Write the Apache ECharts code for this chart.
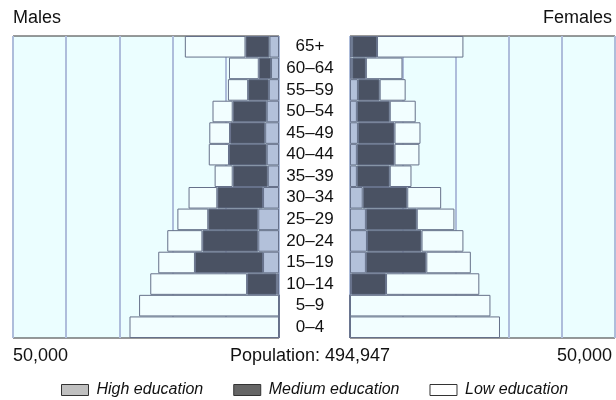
<!DOCTYPE html>
<html><head><meta charset="utf-8">
<script src="https://cdn.jsdelivr.net/npm/echarts@6/dist/echarts.min.js"></script>
<style>html,body{margin:0;padding:0;background:#fff}#c{width:616px;height:400px}</style>
</head><body><div id="c"></div>
<script>
// Age groups, bottom to top
const ages = ['0–4','5–9','10–14','15–19','20–24','25–29','30–34','35–39','40–44','45–49','50–54','55–59','60–64','65+'];
// Males (bottom to top)
const maleHigh   = [0,    0,     400,  3000, 3900, 3900, 3000, 2100, 2300, 2600, 2300, 1900, 1500, 1800];
const maleMedium = [0,    0,     5600, 12800,10500,9400, 8600, 6600, 7100, 6600, 6400, 3900, 2300, 4500];
const maleLow    = [28100,26300, 18200,6900, 6600, 5800, 5400, 3400, 3800, 3900, 3800, 3800, 5600, 11400];
// Females (bottom to top)
const femHigh    = [0,    0,     200,  3000, 3200, 3000, 2400, 1300, 1300, 1500, 1300, 1500, 400,  400];
const femMedium  = [0,    0,     6600, 11400,10300,9600, 8400, 6200, 7100, 6900, 6200, 4100, 2600, 4700];
const femLow     = [28300,26500, 17600,8400, 7900, 7100, 6400, 4100, 4700, 4900, 4900, 4900, 6900, 16300];
const axisMax = 50000;
const totalLabel = 'Population: 494,947';

const FONT = '"Liberation Sans", Arial, sans-serif';
const cHigh = '#b3c1da', cMed = '#4a5263', cLow = '#f2feff', cBorder = '#66718a';

function bar(name, data, color, idx, stack) {
  return {
    type: 'bar', name: name, data: data, stack: stack,
    xAxisIndex: idx, yAxisIndex: idx, barCategoryGap: '0%',
    itemStyle: { color: color, borderColor: cBorder, borderWidth: 1 },
    emphasis: { disabled: true }, animation: false
  };
}

const chart = echarts.init(document.getElementById('c'), null, { renderer: 'canvas' });
const xCommon = {
  type: 'value', min: 0, max: axisMax, interval: 10000,
  axisLabel: { show: false }, axisLine: { show: false }, axisTick: { show: false },
  splitLine: { show: true, lineStyle: { color: '#aebddb', width: 2 } }
};
chart.setOption({
  animation: false,
  grid: [
    { left: 13, right: 337, top: 36, bottom: 62, show: true, backgroundColor: '#ebfeff', borderColor: '#333', borderWidth: 1 },
    { left: 350, right: 1, top: 36, bottom: 62, show: true, backgroundColor: '#ebfeff', borderColor: '#333', borderWidth: 1 }
  ],
  xAxis: [
    Object.assign({ gridIndex: 0, inverse: true }, xCommon),
    Object.assign({ gridIndex: 1 }, xCommon)
  ],
  yAxis: [
    { type: 'category', gridIndex: 0, data: ages, position: 'right',
      axisLabel: { show: false }, axisLine: { show: false }, axisTick: { show: false } },
    { type: 'category', gridIndex: 1, data: ages, position: 'left',
      axisLine: { show: false }, axisTick: { show: false },
      axisLabel: { show: true, interval: 0, align: 'center', margin: 40, fontFamily: FONT, fontSize: 17, color: '#111' } }
  ],
  legend: {
    left: 56, top: 377, itemGap: 30, itemWidth: 27, itemHeight: 11, icon: 'rect',
    selectedMode: false,
    textStyle: { fontFamily: FONT, fontSize: 16, fontStyle: 'italic', color: '#111', padding: [0,0,0,3] },
    data: [
      { name: 'High education', itemStyle: { color: '#c0c0c0', borderColor: '#333', borderWidth: 1 } },
      { name: 'Medium education', itemStyle: { color: '#666666', borderColor: '#333', borderWidth: 1 } },
      { name: 'Low education', itemStyle: { color: '#ffffff', borderColor: '#333', borderWidth: 1 } }
    ]
  },
  graphic: [
    { type: 'text', left: 13, top: 9, style: { text: 'Males', font: '18px ' + FONT, fill: '#111' } },
    { type: 'text', right: 4, top: 9, style: { text: 'Females', font: '18px ' + FONT, fill: '#111' } },
    { type: 'text', left: 13, top: 347, style: { text: '50,000', font: '18px ' + FONT, fill: '#111' } },
    { type: 'text', right: 4, top: 347, style: { text: '50,000', font: '18px ' + FONT, fill: '#111' } },
    { type: 'text', x: 310, y: 347, style: { text: totalLabel, font: '18px ' + FONT, fill: '#111', textAlign: 'center' } }
  ],
  series: [
    bar('High education', maleHigh, cHigh, 0, 'm'),
    bar('Medium education', maleMedium, cMed, 0, 'm'),
    bar('Low education', maleLow, cLow, 0, 'm'),
    bar('High education', femHigh, cHigh, 1, 'f'),
    bar('Medium education', femMedium, cMed, 1, 'f'),
    bar('Low education', femLow, cLow, 1, 'f')
  ]
});
</script></body></html>
